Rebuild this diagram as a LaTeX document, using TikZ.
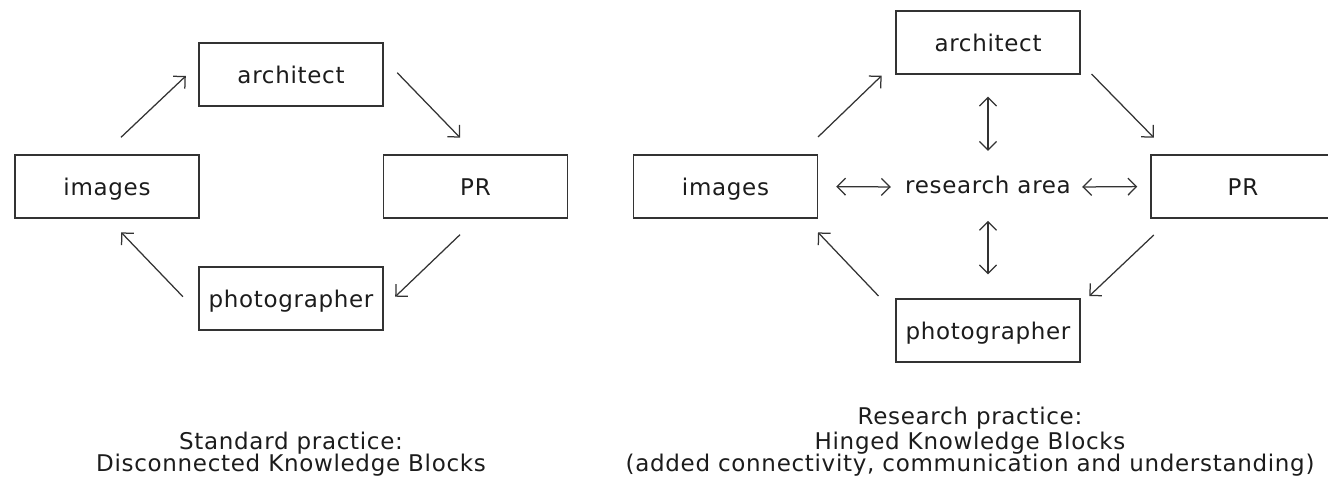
\documentclass[tikz,border=0pt]{standalone}
\usepackage{fontspec}
\setmainfont{DejaVu Sans}[LetterSpace=3]
\usetikzlibrary{arrows.meta}
\definecolor{ink}{HTML}{1C1C1C}
\definecolor{edge}{HTML}{333333}
\begin{document}
\begin{tikzpicture}[x=1pt,y=-1pt,
  txt/.style={font=\fontsize{23}{27}\selectfont, text=ink},
  box/.style={txt, draw=edge, line width=1.4pt, minimum width=184pt, minimum height=63pt,
    inner sep=0pt, text height=19pt, text depth=0pt},
  lbl/.style={txt, inner sep=0pt},
  tip/.tip={Straight Barb[length=8.5pt,width=17pt]},
  flow/.style={draw=edge, line width=1.25pt, -tip},
  both/.style={draw=edge, line width=1.25pt, tip-tip},
]
\useasboundingbox (0,0) rectangle (1328,478);
\clip (0,0) rectangle (1328,478);

% ---------- left diagram ----------
\node[box] (Larch) at (291,74.5)  {architect};
\node[box] (Limg)  at (107,186.5) {images};
\node[box] (Lpr)   at (475.5,186.5) {PR};
\node[box] (Lpho)  at (291,298.5) {photographer};

\draw[flow] ([shift={(14,-17)}]Limg.north) -- ([shift={(-12.5,1.5)}]Larch.west);
\draw[flow] ([shift={(13.5,-1.8)}]Larch.east) -- ([shift={(-15.5,-16.7)}]Lpr.north);
\draw[flow] ([shift={(-15.5,16)}]Lpr.south) -- ([shift={(11.5,-1.8)}]Lpho.east);
\draw[flow] ([shift={(-15.4,-1.8)}]Lpho.west) -- ([shift={(14.2,13.7)}]Limg.south);

\node[lbl, anchor=base] (Lcap1) at (291,449) {Standard practice:};
\node[lbl, anchor=base] (Lcap2) at (291,471) {Disconnected Knowledge Blocks};

% ---------- right diagram ----------
\node[box] (Rarch) at (988,42.5)   {architect};
\node[box] (Rimg)  at (725.5,186.5) {images};
\node[box] (Rpr)   at (1243,186.5)  {PR};
\node[box] (Rpho)  at (988,330.5)  {photographer};
\node[lbl, minimum width=180pt, text height=14pt, text depth=0pt] (Rres) at (988,187) {research area};

\draw[flow] ([shift={(-0.2,-17.3)}]Rimg.north east) -- ([shift={(-13.7,1)}]Rarch.south west);
\draw[flow] ([shift={(10.8,-0.7)}]Rarch.south east) -- ([shift={(3.5,-16.7)}]Rpr.north west);
\draw[flow] ([shift={(3.5,16.3)}]Rpr.south west) -- ([shift={(8.6,-2.3)}]Rpho.north east);
\draw[flow] ([shift={(-16.8,-2.3)}]Rpho.north west) -- ([shift={(-0.2,13.7)}]Rimg.south east);

\draw[both, shorten <=18pt, shorten >=7pt] (Rimg.east) -- (Rres.west);
\draw[both, shorten <=4pt, shorten >=13pt] (Rres.east) -- (Rpr.west);
\draw[both, shorten <=22pt, shorten >=29pt] (Rarch.south) -- (Rres.north);
\draw[both, shorten <=26.7pt, shorten >=24pt] (Rres.south) -- (Rpho.north);

\node[lbl, anchor=base] (Rcap1) at (970,424) {Research practice:};
\node[lbl, anchor=base] (Rcap2) at (970,449) {Hinged Knowledge Blocks};
\node[lbl, anchor=base] (Rcap3) at (970,471) {(added connectivity, communication and understanding)};
\end{tikzpicture}
\end{document}
